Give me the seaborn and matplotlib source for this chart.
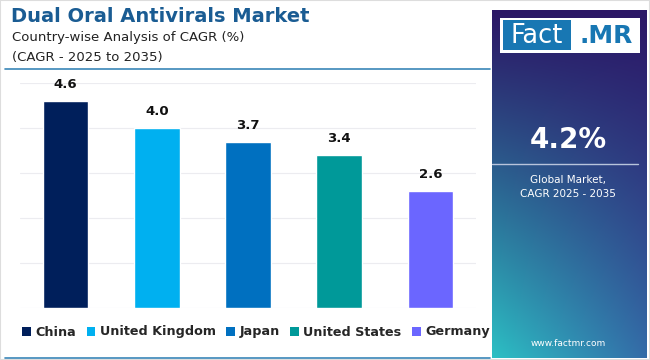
import numpy as np
import pandas as pd
import matplotlib
matplotlib.use("Agg")
import matplotlib.pyplot as plt
from matplotlib.patches import Rectangle, Patch
from matplotlib.lines import Line2D
import seaborn as sns

# datos
paises = ["China", "United Kingdom", "Japan", "United States", "Germany"]
cagr = [4.6, 4.0, 3.7, 3.4, 2.6]
colores = ["#001f5b", "#00b0f0", "#0070c0", "#009999", "#6b66ff"]
global_cagr = "4.2%"

df = pd.DataFrame({"Pais": paises, "CAGR": cagr})

sns.set_style("white")
plt.rcParams["font.family"] = ["DejaVu Sans"]

fig = plt.figure(figsize=(6.5, 3.6), dpi=100)
fig.patch.set_facecolor("white")

#=============================== grafica ===============================
ax = fig.add_axes([20/650, 52/360, 456/650, 225/360])
sns.barplot(data=df, x="Pais", y="CAGR", hue="Pais", palette=colores,
            width=0.5, ax=ax, legend=False, saturation=1)
ax.set_ylim(0, 5)
ax.set_xlim(-0.5, 4.5)
ax.set_yticks([0, 1, 2, 3, 4, 5])
ax.grid(axis="y", color="#ececf0", linewidth=0.8)
ax.set_axisbelow(True)
ax.set_xticks([])
ax.set_yticklabels([])
ax.tick_params(left=False, bottom=False)
ax.set_xlabel("")
ax.set_ylabel("")
for s in ax.spines.values():
    s.set_visible(False)

for i, v in enumerate(cagr):
    ax.text(i, v + 0.22, f"{v:.1f}", ha="center", va="bottom",
            fontsize=9.5, fontweight="bold", color="#111111")

# leyenda
handles = [Patch(facecolor=c, edgecolor="none") for c in colores]
fig.legend(handles, paises, loc="center", bbox_to_anchor=(256/650, 1 - 332/360),
           ncol=5, frameon=False, handlelength=0.7, handleheight=0.7,
           handletextpad=0.35, columnspacing=0.8,
           prop={"weight": "bold", "size": 9.2})

#=============================== titulos ===============================
fig.text(11/650, 1 - 16/360, "Dual Oral Antivirals Market", fontsize=14,
         fontweight="bold", color="#1a5c93", va="center", ha="left")
fig.text(12/650, 1 - 38/360, "Country-wise Analysis of CAGR (%)", fontsize=9.5,
         color="#222222", va="center", ha="left")
fig.text(12/650, 1 - 57/360, "(CAGR - 2025 to 2035)", fontsize=9.5,
         color="#222222", va="center", ha="left")
fig.add_artist(Line2D([5/650, 490/650], [1 - 69/360, 1 - 69/360],
                      transform=fig.transFigure, color="#3a86b8", linewidth=1.2))
fig.add_artist(Line2D([5/650, 490/650], [2/360, 2/360],
                      transform=fig.transFigure, color="#3a86b8", linewidth=1.2))
fig.add_artist(Rectangle((0, 0), 1, 1, transform=fig.transFigure, fill=False,
                         edgecolor="#dddddd", linewidth=1.5))

#=============================== panel derecho ===============================
pan = fig.add_axes([492/650, 2/360, 155/650, 348/360])
top = np.array([0x2b, 0x17, 0x66]) / 255
bot_l = np.array([0x2c, 0xc0, 0xc4]) / 255
bot_r = np.array([0x34, 0x6c, 0xa8]) / 255
yy, xx = np.mgrid[0:1:200j, 0:1:100j]
bottom_mix = bot_l[None, None, :] * (1 - xx[..., None]) + bot_r[None, None, :] * xx[..., None]
t = (yy ** 1.1)[..., None]
img = top[None, None, :] * (1 - t) + bottom_mix * t
pan.imshow(img, extent=[0, 1, 0, 1], aspect="auto", origin="upper")
pan.set_xlim(0, 1)
pan.set_ylim(0, 1)
pan.axis("off")

# logo
pan.add_patch(Rectangle((0.052, 0.876), 0.903, 0.101, facecolor="white", edgecolor="none"))
pan.add_patch(Rectangle((0.071, 0.884), 0.44, 0.087, facecolor="#1877b3", edgecolor="none"))
pan.text(0.29, 0.926, "Fact", color="white", fontsize=18.5, ha="center", va="center")
pan.text(0.735, 0.926, ".MR", color="#1877b3", fontsize=18, fontweight="bold",
         ha="center", va="center")

pan.text(0.49, 0.626, global_cagr, color="white", fontsize=20, fontweight="bold",
         ha="center", va="center")
pan.plot([0, 0.94], [0.557, 0.557], color="#b8c4dc", linewidth=1)
pan.text(0.49, 0.511, "Global Market,", color="white", fontsize=7.5,
         ha="center", va="center")
pan.text(0.49, 0.471, "CAGR 2025 - 2035", color="white", fontsize=7.5,
         ha="center", va="center")
pan.text(0.49, 0.043, "www.factmr.com", color="white", fontsize=6.5,
         ha="center", va="center")

fig.savefig("out.png", dpi=100)
